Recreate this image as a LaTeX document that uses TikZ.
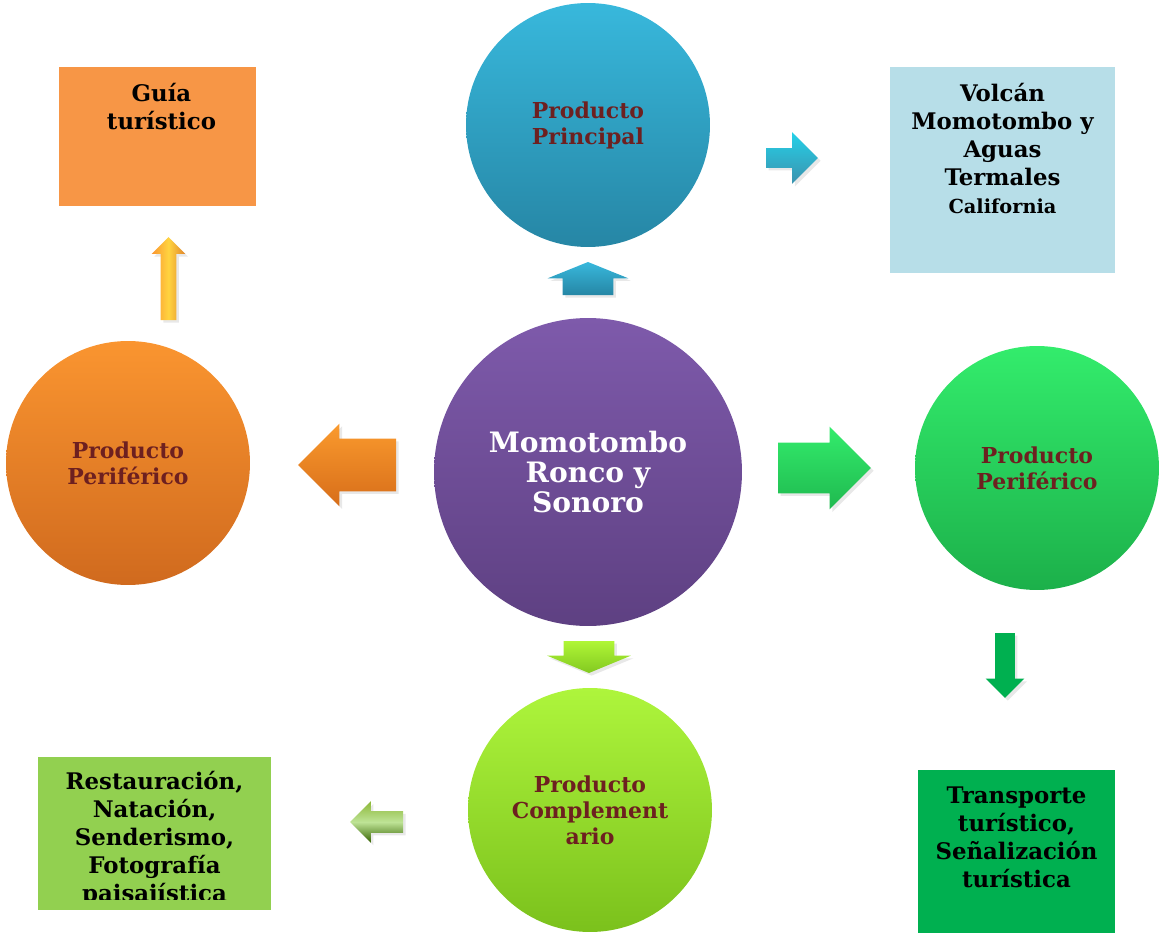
\documentclass[tikz,border=0pt]{standalone}
\usepackage{fontspec}
\setmainfont{DejaVu Serif}
\usepackage{tikz}
\usetikzlibrary{positioning,shapes.arrows,shadows}
\definecolor{cmaroon}{HTML}{6D2020}
\definecolor{cblueT}{HTML}{38B8DC}
\definecolor{cblueB}{HTML}{2686A5}
\definecolor{cpurT}{HTML}{7E5AAB}
\definecolor{cpurB}{HTML}{5E4082}
\definecolor{corT}{HTML}{FA9530}
\definecolor{corB}{HTML}{D06A1E}
\definecolor{cgrT}{HTML}{33EC6C}
\definecolor{cgrB}{HTML}{1CB04A}
\definecolor{climT}{HTML}{AEF53C}
\definecolor{climB}{HTML}{7BC11C}
\definecolor{cguia}{HTML}{F79646}
\definecolor{cvolc}{HTML}{B7DEE8}
\definecolor{crest}{HTML}{92D050}
\definecolor{ctrans}{HTML}{00B050}
\tikzset{
  ptext/.style={font=\bfseries\fontsize{12.5}{14.8}\selectfont, align=center, text=cmaroon},
  btext/.style={font=\bfseries\fontsize{13}{15.9}\selectfont, align=center, text=black, inner sep=0pt},
  prod/.style={circle, minimum size=4.88cm, inner sep=0pt, ptext},
  infobox/.style={rectangle, draw=none, inner sep=0pt},
  barr/.style n args={4}{single arrow, anchor=tail, draw=none, inner xsep=0pt, outer sep=0pt,
    inner ysep=#1, single arrow head extend=#2, minimum height=#3,
    single arrow tip angle=#4,
    drop shadow={opacity=0.18, shadow xshift=1.5pt, shadow yshift=-1.5pt}},
}
\begin{document}
\begin{tikzpicture}[x=0.02cm, y=-0.02cm]
  \useasboundingbox (0,0) rectangle (1161,933);
  % circles
  \node[prod, minimum size=6.16cm, top color=cpurT, bottom color=cpurB, text=white,
        font=\bfseries\fontsize{16}{17.2}\selectfont] (core) at (588,472) {Momotombo\\Ronco y\\Sonoro};
  \node[prod, top color=cblueT, bottom color=cblueB] (princ) at (588,125) {Producto\\Principal};
  \node[prod, top color=corT, bottom color=corB] (perL) at (128,463) {Producto\\Periférico};
  \node[prod, top color=cgrT, bottom color=cgrB] (perR) at (1037,468) {Producto\\Periférico};
  \node[prod, top color=climT, bottom color=climB] (compl) at (590,810) {Producto\\Complement\\ario};
  % boxes
  \node[infobox, fill=cguia, minimum width=3.94cm, minimum height=2.78cm] (guia) at (157.5,136.5) {};
  \node[btext, below=0.32cm of guia.north, xshift=0.08cm] (guiaT) {Guía\\turístico};
  \node[infobox, fill=cvolc, minimum width=4.5cm, minimum height=4.12cm] (volc) at (1002.5,170) {};
  \node[btext, below=0.32cm of volc.north] (volcT) {Volcán\\Momotombo y\\Aguas\\Termales\\{\fontsize{11}{13}\selectfont California}};
  \node[infobox, fill=crest, minimum width=4.66cm, minimum height=3.06cm] (rest) at (154.5,833.5) {};
  \begin{scope}
    \clip (38,757) rectangle (271,899);
    \node[btext, below=0.28cm of rest.north] (restT) {Restauración,\\Natación,\\Senderismo,\\Fotografía\\paisajística};
  \end{scope}
  \node[infobox, fill=ctrans, minimum width=3.94cm, minimum height=3.4cm] (trans) at (1016.5,855) {};
  \node[btext, below=0.34cm of trans.north] (transT) {Transporte\\turístico,\\Señalización\\turística};
  % block arrows
  \node[barr={0.5cm}{0.3cm}{0.66cm}{136}, rotate=90, top color=cblueT, bottom color=cblueB] (aTop) at (588,295) {};
  \node[barr={0.19cm}{0.32cm}{1.04cm}{90}, top color=cyan!35!cblueT, bottom color=cblueB!90] (aVolc) at (766,158) {};
  \node[barr={0.15cm}{0.18cm}{1.66cm}{90}, rotate=90, left color=corT, right color=corT!90!black, middle color=yellow!55!orange!75] (aGuia) at (168.5,320) {};
  \node[barr={0.52cm}{0.3cm}{1.96cm}{90}, rotate=180, top color=corT!95!yellow, bottom color=corB!85!orange] (aLeft) at (396,465) {};
  \node[barr={0.5cm}{0.32cm}{1.86cm}{90}, top color=cgrT, bottom color=cgrB!85!cgrT] (aRight) at (778,468) {};
  \node[barr={0.5cm}{0.33cm}{0.64cm}{135}, rotate=-90, top color=climT!90!lime, bottom color=climB!85!climT] (aBot) at (589,641) {};
  \node[barr={0.19cm}{0.19cm}{1.30cm}{90}, rotate=-90, fill=ctrans] (aTrans) at (1005,633) {};
  \node[barr={0.21cm}{0.2cm}{1.06cm}{90}, rotate=180, bottom color=olive!70!green!60!black, top color=crest!70!olive, middle color=crest!60!white] (aRest) at (403,822) {};
\end{tikzpicture}
\end{document}
